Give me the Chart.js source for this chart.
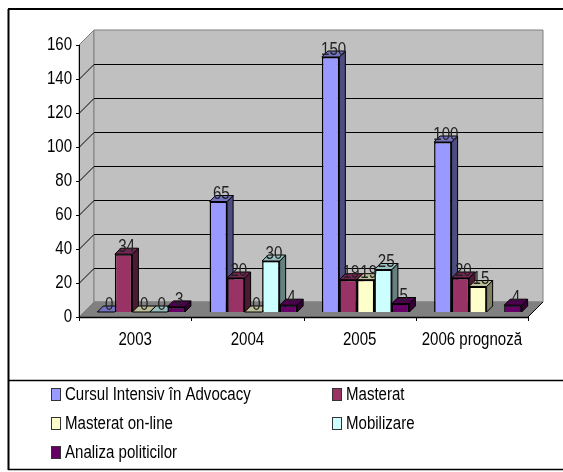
<!DOCTYPE html>
<html>
<head>
<meta charset="utf-8">
<style>
  html, body { margin: 0; padding: 0; background: #fff; }
  canvas { display: block; }
</style>
<script src="https://cdn.jsdelivr.net/npm/chart.js@4"></script>
</head>
<body>
<canvas id="chart" width="563" height="472"></canvas>
<script>
'use strict';

const categories = ['2003', '2004', '2005', '2006 prognoză'];
const cursul = [0, 65, 150, 100];
const masterat = [34, 20, 19, 20];
const masteratOnline = [0, 0, 19, 15];
const mobilizare = [0, 30, 25, null];
const analiza = [3, 4, 5, 4];

const seriesNames = ['Cursul Intensiv în Advocacy', 'Masterat', 'Masterat on-line', 'Mobilizare', 'Analiza politicilor'];
const seriesColors = ['#9999ff', '#993366', '#ffffcc', '#ccffff', '#660066'];
const seriesTops = ['#7373bf', '#732650', '#bfbf99', '#99bfbf', '#4d004d'];
const seriesSides = ['#4d4d80', '#4d1a33', '#808066', '#668080', '#330033'];

const FONT = '17.5px "Liberation Sans", Arial, sans-serif';
const SQUEEZE = 0.86;  // the original text is a narrow Arial
const WALL = 15;       // depth of the floor and side wall
const BAR_DEPTH = 6;   // depth of a single bar
const BAR_DX = 6;      // bars stand in the middle of the floor
const BAR_DY = 5;

function poly(ctx, pts, fill, stroke) {
  ctx.beginPath();
  pts.forEach((p, i) => i ? ctx.lineTo(p[0], p[1]) : ctx.moveTo(p[0], p[1]));
  ctx.closePath();
  if (fill) { ctx.fillStyle = fill; ctx.fill(); }
  if (stroke) { ctx.strokeStyle = stroke; ctx.lineWidth = 1; ctx.stroke(); }
}

function line(ctx, x1, y1, x2, y2, color, width) {
  ctx.beginPath();
  ctx.moveTo(x1, y1);
  ctx.lineTo(x2, y2);
  ctx.strokeStyle = color;
  ctx.lineWidth = width;
  ctx.stroke();
}

function narrowText(ctx, text, x, y, align, color) {
  ctx.save();
  ctx.translate(x, y);
  ctx.scale(SQUEEZE, 1);
  ctx.font = FONT;
  ctx.fillStyle = color;
  ctx.textAlign = align;
  ctx.textBaseline = 'middle';
  ctx.fillText(text, 0, 0);
  ctx.restore();
}

/* Frame, walls, floor and axes. */
function drawBackdrop(chart) {
  const ctx = chart.ctx;
  const xs = chart.scales.x;
  const ys = chart.scales.y;
  const l = xs.left, r = xs.right, b = ys.bottom, t = ys.top;

  ctx.save();
  line(ctx, 8.5, 9, 8.5, 470, '#000', 2);
  line(ctx, 8, 9, 563, 9, '#000', 2);
  line(ctx, 8, 380.5, 563, 380.5, '#000', 1.5);
  line(ctx, 8, 469.5, 563, 469.5, '#000', 1.5);

  poly(ctx, [[l, t], [l + WALL, t - WALL], [l + WALL, b - WALL], [l, b]], '#c0c0c0', '#808080');
  poly(ctx, [[l + WALL, t - WALL], [r + WALL, t - WALL], [r + WALL, b - WALL], [l + WALL, b - WALL]], '#c0c0c0', '#808080');
  poly(ctx, [[l, b], [l + WALL, b - WALL], [r + WALL, b - WALL], [r, b]], '#808080', '#808080');

  ys.ticks.forEach(tick => {
    const y = Math.round(ys.getPixelForValue(tick.value)) + 0.5;
    if (tick.value > 0 && tick.value < ys.max) {
      line(ctx, l, y, l + WALL, y - WALL, '#000', 1);
      line(ctx, l + WALL, y - WALL, r + WALL, y - WALL, '#000', 1);
    }
    line(ctx, l - 3, y, l, y, '#000', 1);
    narrowText(ctx, String(tick.value), 72, y - 0.5, 'right', '#000');
  });
  line(ctx, l + 0.5, t, l + 0.5, b, '#000', 1);
  line(ctx, l, b + 0.5, r, b + 0.5, '#000', 1.5);
  line(ctx, r, b, r + WALL, b - WALL, '#000', 1);
  for (let i = 0; i <= categories.length; i++) {
    const x = Math.round(l + (r - l) * i / categories.length) + 0.5;
    line(ctx, x, b, x, b + 4, '#000', 1);
  }
  categories.forEach((name, i) => {
    narrowText(ctx, name, xs.getPixelForTick(i), 340, 'center', '#000');
  });
  ctx.restore();
}

/* Bars go left to right, each with its side and top faces. */
function drawBars(chart) {
  const ctx = chart.ctx;
  ctx.save();
  ctx.translate(BAR_DX, -BAR_DY);
  categories.forEach((_, c) => {
    seriesNames.forEach((_, s) => {
      const bar = chart.getDatasetMeta(s).data[c];
      if (chart.data.datasets[s].data[c] === null) return;
      const x1 = bar.x - bar.width / 2, x2 = bar.x + bar.width / 2;
      const d = BAR_DEPTH;
      poly(ctx, [[x2, bar.y], [x2 + d, bar.y - d], [x2 + d, bar.base - d], [x2, bar.base]], seriesSides[s], '#000');
      poly(ctx, [[x1, bar.y], [x1 + d, bar.y - d], [x2 + d, bar.y - d], [x2, bar.y]], seriesTops[s], '#000');
      bar.draw(ctx);
    });
  });
  // value labels sit above everything
  seriesNames.forEach((_, s) => {
    chart.getDatasetMeta(s).data.forEach((bar, c) => {
      const v = chart.data.datasets[s].data[c];
      if (v === null) return;
      narrowText(ctx, String(v), bar.x + BAR_DEPTH / 2, bar.y - 7, 'center', '#222');
    });
  });
  ctx.restore();
}

function drawLegend(chart) {
  const ctx = chart.ctx;
  const rows = [394.5, 423.5, 452.5];
  const cols = [51, 332];
  ctx.save();
  seriesNames.forEach((name, i) => {
    const x = cols[i % 2], y = rows[Math.floor(i / 2)];
    ctx.fillStyle = seriesColors[i];
    ctx.fillRect(x + 0.5, y - 6, 9, 12);
    ctx.strokeStyle = '#333';
    ctx.lineWidth = 1;
    ctx.strokeRect(x + 0.5, y - 6, 9, 12);
    narrowText(ctx, name, x + 14, y + 0.5, 'left', '#000');
  });
  ctx.restore();
}

const bars3d = {
  id: 'bars3d',
  beforeDatasetsDraw(chart) {
    drawBars(chart);
    return false;
  },
  beforeDraw(chart) {
    drawBackdrop(chart);
    drawLegend(chart);
  }
};

new Chart(document.getElementById('chart'), {
  type: 'bar',
  plugins: [bars3d],
  data: {
    labels: categories,
    datasets: [cursul, masterat, masteratOnline, mobilizare, analiza].map((values, i) => ({
      label: seriesNames[i],
      data: values,
      backgroundColor: seriesColors[i],
      borderColor: '#000',
      borderWidth: 1.5,
      barPercentage: 1,
      categoryPercentage: 0.78
    }))
  },
  options: {
    responsive: false,
    animation: false,
    layout: { padding: { top: 45, right: 35, bottom: 0, left: 0 } },
    plugins: { legend: { display: false }, tooltip: { enabled: false } },
    scales: {
      x: {
        grid: { display: false },
        border: { display: false },
        ticks: { display: false },
        afterFit(scale) { scale.height = 155; }
      },
      y: {
        min: 0,
        max: 160,
        grid: { display: false },
        border: { display: false },
        ticks: { display: false, stepSize: 20 },
        afterFit(scale) { scale.width = 79; }
      }
    }
  }
});
</script>
</body>
</html>
